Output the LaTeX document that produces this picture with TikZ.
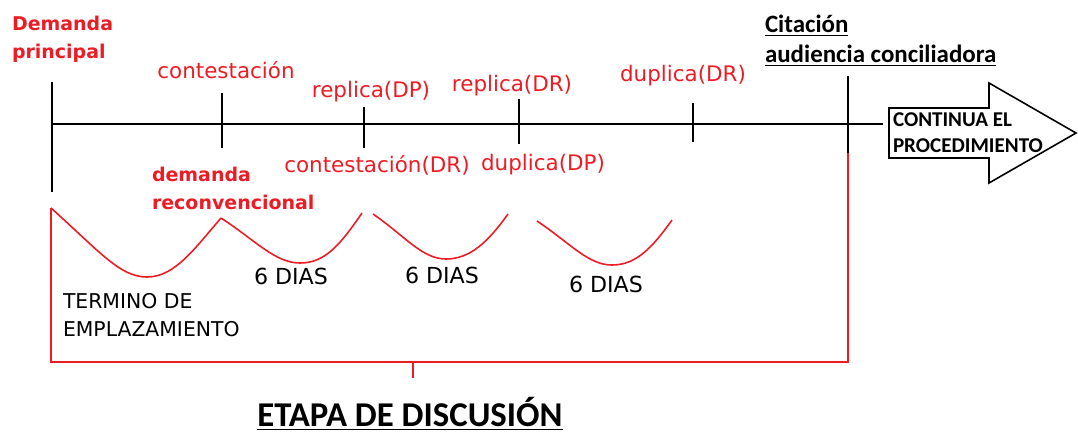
\documentclass[tikz,border=0pt]{standalone}
\usepackage{fontspec}
\setmainfont{DejaVu Sans}
\newfontfamily\calibri{Carlito}
\definecolor{plazo}{RGB}{237,28,36}
\tikzset{%
  % Specifications for style of nodes:
        base/.style = {inner sep=0pt, outer sep=0pt},
    etiqueta/.style = {base, text=plazo, font=\fontsize{12.2}{14}\selectfont},
        acto/.style = {base, anchor=west, align=left, text=plazo,
                       font=\bfseries\fontsize{10.8}{16}\selectfont},
      titulo/.style = {base, anchor=west, align=left,
                       font=\calibri\bfseries\fontsize{14.2}{17}\selectfont},
       termino/.style = {base, font=\fontsize{11.6}{16}\selectfont},
  % Specifications for style of lines:
       linea/.style = {line width=1.1pt},
    corchete/.style = {draw=plazo, line width=0.9pt},
  }
\begin{document}
\begin{tikzpicture}[x=0.02cm, y=-0.02cm]
  \useasboundingbox (0,0) rectangle (1078,434);
  % Specification of the points on the time line
  \coordinate (Inicio)      at (52,124);
  \coordinate (Fin)         at (883,124);
  \coordinate (InicioArriba) at (52,82);
  \coordinate (InicioAbajo)  at (52,192);
  \coordinate (ContArriba)  at (222,93);
  \coordinate (ContAbajo)   at (222,148);
  \coordinate (RepDPArriba) at (364,107);
  \coordinate (RepDPAbajo)  at (364,148);
  \coordinate (RepDRArriba) at (519,99);
  \coordinate (RepDRAbajo)  at (519,144);
  \coordinate (DupDRArriba) at (693,103);
  \coordinate (DupDRAbajo)  at (693,142);
  \coordinate (CitArriba)   at (848,76);
  \coordinate (CitAbajo)    at (848,153);
  \coordinate (CorcheteIzq) at (51,208);
  \coordinate (CorcheteIzqAbajo) at (51,362);
  \coordinate (CorcheteDerAbajo) at (848,362);
  \coordinate (CorcheteMedio) at (413,362);
  \coordinate (CorchetePunta) at (413,378);

  % Specification of the texts
  \node (DemandaPrincipal) [acto] at (12,39) {Demanda\\principal};
  \node (Contestacion)  [etiqueta] at (226,70)  {contestación};
  \node (ReplicaDP)     [etiqueta] at (371,92)  {replica(DP)};
  \node (ReplicaDR)     [etiqueta] at (512,86)  {replica(DR)};
  \node (DuplicaDR)     [etiqueta] at (683,76)  {duplica(DR)};
  \node (ContestacionDR) [etiqueta] at (377,165) {contestación(DR)};
  \node (DuplicaDP)     [etiqueta] at (543,165) {duplica(DP)};
  \node (Reconvencion)  [acto] at (152,188) {demanda\\reconvencional};
  \node (Citacion)      [titulo] at (765,41)
        {\underline{Citación}\\\underline{audiencia conciliadora}};
  \node (Emplazamiento) [termino, anchor=west, align=left] at (63,315)
        {TERMINO DE\\EMPLAZAMIENTO};
  \node (Plazo1) [termino, font=\fontsize{12.6}{15}\selectfont] at (291,276) {6 DIAS};
  \node (Plazo2) [termino, font=\fontsize{12.6}{15}\selectfont] at (442,275) {6 DIAS};
  \node (Plazo3) [termino, font=\fontsize{12.6}{15}\selectfont] at (606,284) {6 DIAS};
  \node (Etapa) [base, font=\calibri\bfseries\fontsize{19.8}{22}\selectfont]
        at (410,414) {\underline{ETAPA DE DISCUSIÓN}};

  % Specification of the time line and its marks
  \draw[linea] (Inicio) -- (Fin);
  \draw[linea] (InicioArriba) -- (InicioAbajo);
  \draw[linea] (ContArriba) -- (ContAbajo);
  \draw[linea] (RepDPArriba) -- (RepDPAbajo);
  \draw[linea] (RepDRArriba) -- (RepDRAbajo);
  \draw[linea] (DupDRArriba) -- (DupDRAbajo);
  \draw[linea] (CitArriba) -- (CitAbajo);

  % Arrow at the end of the line
  \draw[line width=0.9pt, fill=white] (889,108) -- (989,108) -- (989,83)
        -- (1076,133) -- (989,183) -- (989,158) -- (889,158) -- cycle;
  \node (Continua) [base, anchor=west, align=left,
        font=\calibri\bfseries\fontsize{12}{14.8}\selectfont]
        at (893,133) {CONTINUA EL\\PROCEDIMIENTO};

  % Terms between the acts
  \draw[corchete] (CorcheteIzq) .. controls (100,252) and (120,277) .. (147,277)
        .. controls (175,277) and (195,248) .. (221,218);
  \draw[corchete] (221,218) .. controls (255,240) and (275,263) .. (300,263)
        .. controls (325,263) and (340,245) .. (362,213);
  \draw[corchete] (373,214) .. controls (405,236) and (422,259) .. (446,259)
        .. controls (470,259) and (488,242) .. (508,214);
  \draw[corchete] (537,221) .. controls (570,243) and (588,265) .. (612,265)
        .. controls (636,265) and (652,248) .. (672,220);

  % Bracket of the stage
  \draw[corchete] (CorcheteIzq) -- (CorcheteIzqAbajo) -- (CorcheteDerAbajo) -- (CitAbajo);
  \draw[corchete] (CorcheteMedio) -- (CorchetePunta);
\end{tikzpicture}
\end{document}
